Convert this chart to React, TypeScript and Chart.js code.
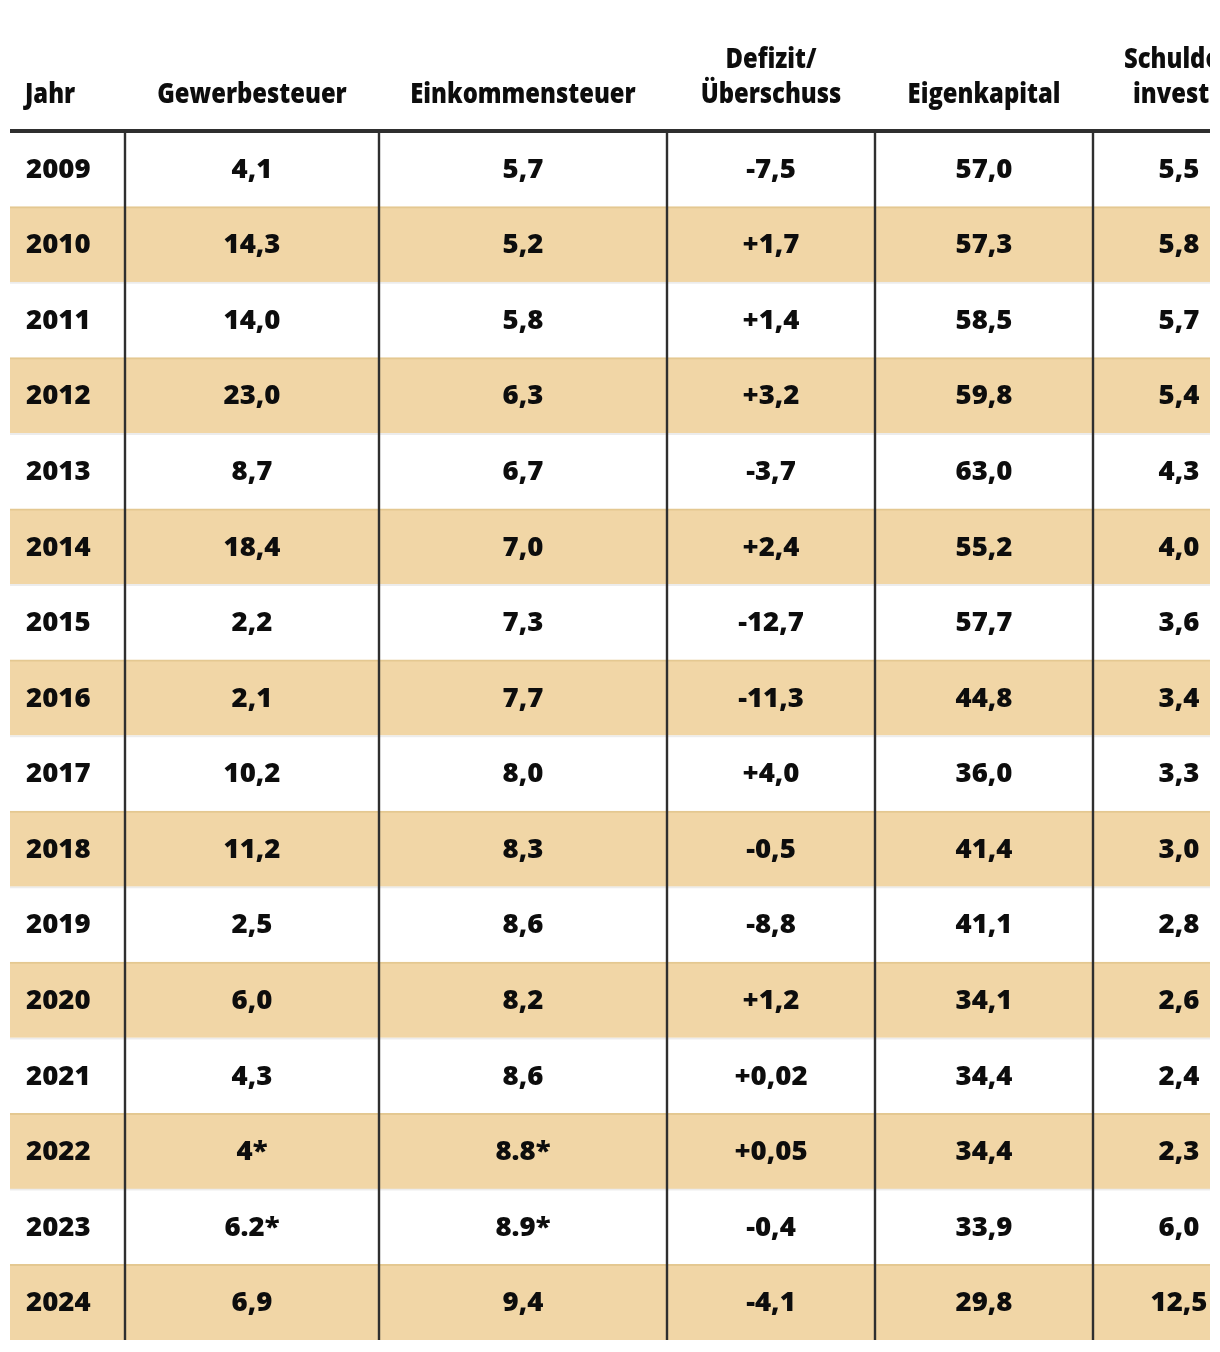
import React, { useEffect, useRef } from "react";
import { Chart, registerables } from "chart.js";

Chart.register(...registerables);

// ---- data ----
const years = ["2009","2010","2011","2012","2013","2014","2015","2016","2017","2018","2019","2020","2021","2022","2023","2024"];
const gewerbesteuer = ["4,1","14,3","14,0","23,0","8,7","18,4","2,2","2,1","10,2","11,2","2,5","6,0","4,3","4*","6.2*","6,9"];
const einkommensteuer = ["5,7","5,2","5,8","6,3","6,7","7,0","7,3","7,7","8,0","8,3","8,6","8,2","8,6","8.8*","8.9*","9,4"];
const defizit = ["-7,5","+1,7","+1,4","+3,2","-3,7","+2,4","-12,7","-11,3","+4,0","-0,5","-8,8","+1,2","+0,02","+0,05","-0,4","-4,1"];
const eigenkapital = ["57,0","57,3","58,5","59,8","63,0","55,2","57,7","44,8","36,0","41,4","41,1","34,1","34,4","34,4","33,9","29,8"];
const schulden = ["5,5","5,8","5,7","5,4","4,3","4,0","3,6","3,4","3,3","3,0","2,8","2,6","2,4","2,3","6,0","12,5"];
const headers: string[][] = [["Jahr"], ["Gewerbesteuer"], ["Einkommensteuer"], ["Defizit/", "Überschuss"], ["Eigenkapital"], ["Schulden-", "investitionen"]];

// ---- layout (x units of the value axis) ----
const X_MAX = 1220;
const TABLE_LEFT = 10;
const TABLE_RIGHT = 1210;
const COL_EDGES = [10, 125, 379, 667, 875, 1093, 1265];
const LAST_HEADER_OFFSETS = [31, 40];
const HEADER_FONT = '800 29px "Open Sans", "Noto Sans", sans-serif';
const HEADER_SQUEEZE = 0.82;
const CELL_FONT = '800 26px "Open Sans", "Noto Sans", sans-serif';
const CELL_SQUEEZE = 1.06;
const BAND = "#f1d6a6";
const BAND_EDGE = "#e4c891";
const WHITE_EDGE = "#ececec";
const INK = "#0d0d0d";
const RULE = "#2f2f2f";

function squeezedText(ctx: CanvasRenderingContext2D, text: string, x: number, y: number, align: CanvasTextAlign, sx: number) {
  ctx.save();
  ctx.translate(x, y);
  ctx.scale(sx, 1);
  ctx.textAlign = align;
  ctx.fillText(text, 0, 0);
  ctx.restore();
}

export default function App() {
  const ref = useRef<HTMLCanvasElement | null>(null);
  useEffect(() => {
    if (!ref.current) return;
    const columns = [years, gewerbesteuer, einkommensteuer, defizit, eigenkapital, schulden];

    const tablePlugin = {
      id: "tablePlugin",
      afterDatasetsDraw(chart: any) {
        const { ctx, chartArea, scales } = chart;
        const xs = scales.x;
        const ys = scales.y;
        const left = xs.getPixelForValue(TABLE_LEFT);
        const right = xs.getPixelForValue(TABLE_RIGHT);
        ctx.save();
        ctx.beginPath();
        ctx.rect(0, 0, right, chart.height);
        ctx.clip();

        // vertical rules
        ctx.strokeStyle = RULE;
        ctx.lineWidth = 2.4;
        for (let k = 1; k < COL_EDGES.length - 1; k++) {
          const x = xs.getPixelForValue(COL_EDGES[k]);
          ctx.beginPath();
          ctx.moveTo(x, chartArea.top);
          ctx.lineTo(x, chartArea.bottom);
          ctx.stroke();
        }
        // header rule
        ctx.lineWidth = 4;
        ctx.beginPath();
        ctx.moveTo(left, chartArea.top);
        ctx.lineTo(right, chartArea.top);
        ctx.stroke();

        // header texts
        ctx.fillStyle = INK;
        ctx.font = HEADER_FONT;
        ctx.textBaseline = "alphabetic";
        const headBase = chartArea.top - 28;
        headers.forEach((lines, c) => {
          lines.forEach((ln, li) => {
            const y = headBase - (lines.length - 1 - li) * 35;
            if (c === 0) {
              squeezedText(ctx, ln, xs.getPixelForValue(COL_EDGES[0]) + 15, y, "left", HEADER_SQUEEZE);
            } else if (c === headers.length - 1) {
              squeezedText(ctx, ln, xs.getPixelForValue(COL_EDGES[c]) + LAST_HEADER_OFFSETS[li], y, "left", HEADER_SQUEEZE);
            } else {
              const x = (xs.getPixelForValue(COL_EDGES[c]) + xs.getPixelForValue(COL_EDGES[c + 1])) / 2;
              squeezedText(ctx, ln, x, y, "center", HEADER_SQUEEZE);
            }
          });
        });

        // cells
        ctx.font = CELL_FONT;
        years.forEach((_, r) => {
          const y = ys.getPixelForValue(r) + 9;
          columns.forEach((col, c) => {
            if (c === 0) {
              squeezedText(ctx, col[r], xs.getPixelForValue(COL_EDGES[0]) + 16, y, "left", CELL_SQUEEZE);
            } else {
              const x = (xs.getPixelForValue(COL_EDGES[c]) + xs.getPixelForValue(COL_EDGES[c + 1])) / 2;
              squeezedText(ctx, col[r], x, y, "center", CELL_SQUEEZE);
            }
          });
        });
        ctx.restore();
      },
    };

    const chart = new Chart(ref.current, {
      type: "bar",
      data: {
        labels: years,
        datasets: [
          {
            data: years.map(() => [TABLE_LEFT, TABLE_RIGHT] as any),
            backgroundColor: years.map((_, i) => (i % 2 === 1 ? BAND : "#ffffff")),
            borderColor: years.map((_, i) => (i % 2 === 1 ? BAND_EDGE : i === 0 ? "#ffffff" : WHITE_EDGE)),
            borderWidth: { top: 2, bottom: 0, left: 0, right: 0 },
            borderSkipped: false,
            barPercentage: 1,
            categoryPercentage: 1,
          } as any,
        ],
      },
      options: {
        indexAxis: "y",
        responsive: false,
        animation: false,
        events: [],
        layout: { padding: { top: 131, bottom: 12, left: 0, right: 0 } },
        plugins: { legend: { display: false }, tooltip: { enabled: false } },
        scales: {
          x: { type: "linear", min: 0, max: X_MAX, display: false },
          y: { type: "category", offset: true, display: false, grid: { display: false } },
        },
      },
      plugins: [tablePlugin],
    });
    return () => chart.destroy();
  }, []);

  return (
    <div style={{ position: "fixed", left: 0, top: 0, width: 1220, height: 1352, background: "#ffffff" }}>
      <canvas ref={ref} width={1220} height={1352} style={{ width: 1220, height: 1352, display: "block" }} />
    </div>
  );
}
